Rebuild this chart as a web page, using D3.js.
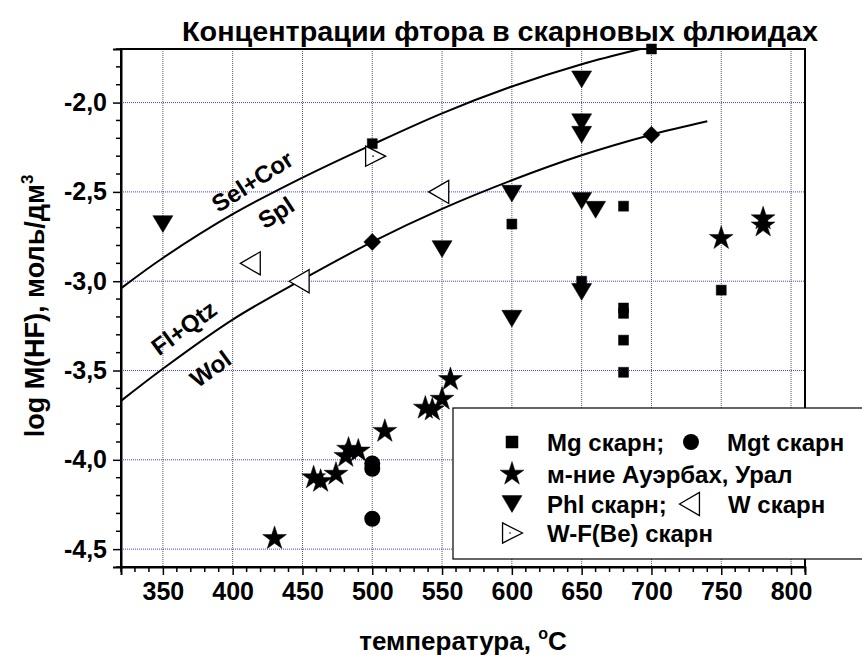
<!DOCTYPE html>
<html>
<head>
<meta charset="utf-8">
<script src="https://cdn.jsdelivr.net/npm/d3@7"></script>
<style>
  html, body { margin: 0; padding: 0; background: #fff; }
  svg { display: block; font-family: "Liberation Sans", Arial, sans-serif; font-weight: bold; }
</style>
</head>
<body>
<svg id="chart" width="862" height="662"></svg>
<script>
// Температура, °C и log M(HF) для каждой группы точек
const mgT = [500, 700, 600, 680, 680, 680, 680, 680, 650, 750];
const mgV = [-2.23, -1.70, -2.68, -2.58, -3.15, -3.18, -3.33, -3.51, -3.00, -3.05];

const mgtT = [500, 500, 500];
const mgtV = [-4.02, -4.05, -4.33];

const auerT = [430, 458, 463, 474, 481, 483, 490, 509, 538, 543, 550, 556, 750, 780, 780];
const auerV = [-4.44, -4.10, -4.12, -4.08, -3.98, -3.94, -3.95, -3.84, -3.71, -3.72, -3.66, -3.55, -2.76, -2.65, -2.69];

const phlT = [350, 550, 600, 600, 650, 650, 650, 650, 660, 650];
const phlV = [-2.68, -2.82, -2.51, -3.21, -1.87, -2.11, -2.18, -2.55, -2.60, -3.06];

const wT = [413, 448, 548];
const wV = [-2.90, -3.00, -2.50];

const wfT = [502];
const wfV = [-2.30];

const diaT = [500, 700];
const diaV = [-2.78, -2.18];

// Линии равновесий
const selCorT = [320, 350, 400, 450, 500, 550, 600, 650, 692];
const selCorV = [-3.04, -2.87, -2.625, -2.42, -2.235, -2.06, -1.91, -1.785, -1.70];

const flQtzT = [320, 350, 400, 450, 500, 550, 600, 650, 700, 740];
const flQtzV = [-3.67, -3.49, -3.215, -2.99, -2.78, -2.595, -2.435, -2.295, -2.18, -2.105];

// Оси
const xTickVals = [350, 400, 450, 500, 550, 600, 650, 700, 750, 800];
const yTickVals = [-4.5, -4.0, -3.5, -3.0, -2.5, -2.0];
const yTickLabels = ["-4,5", "-4,0", "-3,5", "-3,0", "-2,5", "-2,0"];

const titleText = "Концентрации фтора в скарновых флюидах";
const xTitle = "температура, ";
const yTitle = "log M(HF), моль/дм";

const svg = d3.select("#chart");
const L = 121, R = 805, T = 49, B = 567;

const x = d3.scaleLinear().domain([320, 810]).range([L, R]);
const y = d3.scaleLinear().domain([-4.6, -1.7]).range([B, T]);

const zip = (a, b) => a.map((v, i) => [v, b[i]]);

svg.append("defs").append("clipPath").attr("id", "plotClip")
  .append("rect").attr("x", L).attr("y", T).attr("width", R - L).attr("height", B - T);

// Сетка
const grid = svg.append("g");
grid.selectAll("line.vg").data(xTickVals).join("line")
  .attr("x1", d => x(d)).attr("x2", d => x(d)).attr("y1", T).attr("y2", B)
  .attr("stroke", "#555").attr("stroke-width", 1).attr("stroke-dasharray", "1,1");
grid.selectAll("line.hg").data(yTickVals).join("line")
  .attr("x1", L).attr("x2", R).attr("y1", d => y(d)).attr("y2", d => y(d))
  .attr("stroke", "#3b3bff").attr("stroke-width", 1).attr("stroke-dasharray", "1,1");

// Кривые
const line = d3.line().x(d => x(d[0])).y(d => y(d[1])).curve(d3.curveCatmullRom);
const curves = svg.append("g").attr("clip-path", "url(#plotClip)");
curves.append("path").attr("d", line(zip(selCorT, selCorV)))
  .attr("fill", "none").attr("stroke", "#000").attr("stroke-width", 2);
curves.append("path").attr("d", line(zip(flQtzT, flQtzV)))
  .attr("fill", "none").attr("stroke", "#000").attr("stroke-width", 2);

// Подписи кривых
const curveLabels = [
  { text: "Sel+Cor", t: 414, v: -2.44, a: -33 },
  { text: "Spl", t: 431, v: -2.615, a: -33 },
  { text: "Fl+Qtz", t: 365, v: -3.26, a: -36 },
  { text: "Wol", t: 384, v: -3.49, a: -36 }
];
svg.append("g").selectAll("text").data(curveLabels).join("text")
  .attr("transform", d => `translate(${x(d.t)},${y(d.v)}) rotate(${d.a})`)
  .attr("text-anchor", "middle").attr("dy", "0.36em")
  .attr("font-size", 24).text(d => d.text);

// Маркеры
const shapes = {
  square: s => `M${-s/2},${-s/2}h${s}v${s}h${-s}Z`,
  down: s => `M${-s/2},${-s*0.42}L${s/2},${-s*0.42}L0,${s*0.42}Z`,
  left: s => `M${-s*0.5},0L${s*0.45},${-s*0.55}L${s*0.45},${s*0.55}Z`,
  right: s => `M${s*0.5},0L${-s*0.45},${-s*0.48}L${-s*0.45},${s*0.48}Z`,
  diamond: s => `M0,${-s/2}L${s/2},0L0,${s/2}L${-s/2},0Z`,
  star: s => d3.symbol(d3.symbolStar, s)()
};

function drawPoints(g, tArr, vArr, shape, size, filled) {
  g.selectAll(null).data(zip(tArr, vArr)).join("path")
    .attr("transform", d => `translate(${x(d[0])},${y(d[1])})`)
    .attr("d", shapes[shape](size))
    .attr("fill", filled ? "#000" : "#fff")
    .attr("stroke", "#000").attr("stroke-width", filled ? 0.5 : 1.3)
    .attr("stroke-linejoin", "miter");
}

const pts = svg.append("g");
drawPoints(pts, diaT, diaV, "diamond", 17, true);
drawPoints(pts, mgT, mgV, "square", 10, true);
drawPoints(pts, phlT, phlV, "down", 20, true);
drawPoints(pts, wT, wV, "left", 21, false);
drawPoints(pts, wfT, wfV, "right", 21, false);
pts.selectAll(null).data(zip(wfT, wfV)).join("circle")
  .attr("cx", d => x(d[0]) - 2).attr("cy", d => y(d[1])).attr("r", 0.8).attr("fill", "#000");
pts.selectAll(null).data(zip(mgtT, mgtV)).join("circle")
  .attr("cx", d => x(d[0])).attr("cy", d => y(d[1])).attr("r", 8).attr("fill", "#000");
drawPoints(pts, auerT, auerV, "star", 175, true);

// Рамка и оси
const axes = svg.append("g");
axes.append("rect").attr("x", L).attr("y", T).attr("width", R - L).attr("height", B - T)
  .attr("fill", "none").attr("stroke", "#000").attr("stroke-width", 2);

const xAxis = d3.axisBottom(x).tickValues(xTickVals).tickSize(8).tickPadding(7).tickFormat(d3.format("d"));
const gx = axes.append("g").attr("transform", `translate(0,${B})`).call(xAxis);
const xMinor = d3.range(320, 811, 10).filter(v => v % 50 !== 0);
gx.selectAll("line.minor").data(xMinor).join("line").attr("class", "minor")
  .attr("x1", d => x(d)).attr("x2", d => x(d)).attr("y1", 0).attr("y2", 5)
  .attr("stroke", "#000").attr("stroke-width", 1.5);

const yAxis = d3.axisLeft(y).tickValues(yTickVals).tickSize(8).tickPadding(6)
  .tickFormat((d, i) => yTickLabels[i]);
const gy = axes.append("g").attr("transform", `translate(${L},0)`).call(yAxis);
const yMinor = d3.range(-46, -16, 1).map(v => v / 10).filter(v => Math.abs(v * 2 - Math.round(v * 2)) > 1e-6);
gy.selectAll("line.minor").data(yMinor).join("line").attr("class", "minor")
  .attr("x1", -5).attr("x2", 0).attr("y1", d => y(d)).attr("y2", d => y(d))
  .attr("stroke", "#000").attr("stroke-width", 1.5);

[gx, gy].forEach(g => {
  g.select(".domain").attr("stroke-width", 2);
  g.selectAll(".tick line").attr("stroke-width", 1.5);
  g.selectAll(".tick text").attr("font-size", 25).attr("font-weight", "bold")
    .attr("font-family", "Liberation Sans, Arial, sans-serif").attr("fill", "#000");
});

// Заголовки
svg.append("text").attr("x", 500).attr("y", 41).attr("text-anchor", "middle")
  .attr("font-size", 28).attr("textLength", 636).attr("lengthAdjust", "spacingAndGlyphs")
  .text(titleText);

const xt = svg.append("text").attr("x", 463).attr("y", 650).attr("text-anchor", "middle")
  .attr("font-size", 26);
xt.append("tspan").text(xTitle);
xt.append("tspan").attr("dy", -11).attr("font-size", 16).text("o");
xt.append("tspan").attr("dy", 11).text("C");

const yt = svg.append("text").attr("transform", "translate(44,306) rotate(-90)")
  .attr("text-anchor", "middle").attr("font-size", 27);
yt.append("tspan").text(yTitle);
yt.append("tspan").attr("dy", -11).attr("font-size", 17).text("3");

// Легенда
const lg = svg.append("g");
lg.append("rect").attr("x", 453).attr("y", 408).attr("width", 420).attr("height", 151)
  .attr("fill", "#fff").attr("stroke", "#000").attr("stroke-width", 1.2);

const legendItems = [
  { shape: "square", size: 12, filled: true, sx: 512, cy: 442, tx: 547, text: "Mg скарн;" },
  { shape: "circle", size: 8, filled: true, sx: 691, cy: 442, tx: 727, text: "Mgt скарн" },
  { shape: "star", size: 175, filled: true, sx: 512, cy: 474, tx: 547, text: "м-ние Ауэрбах, Урал" },
  { shape: "down", size: 20, filled: true, sx: 512, cy: 504, tx: 547, text: "Phl скарн;" },
  { shape: "left", size: 21, filled: false, sx: 690, cy: 504, tx: 728, text: "W скарн" },
  { shape: "right", size: 21, filled: false, sx: 512, cy: 533, tx: 547, text: "W-F(Be) скарн" }
];
legendItems.forEach(it => {
  if (it.shape === "circle") {
    lg.append("circle").attr("cx", it.sx).attr("cy", it.cy).attr("r", it.size).attr("fill", "#000");
  } else {
    lg.append("path").attr("transform", `translate(${it.sx},${it.cy})`)
      .attr("d", shapes[it.shape](it.size))
      .attr("fill", it.filled ? "#000" : "#fff").attr("stroke", "#000")
      .attr("stroke-width", it.filled ? 0.5 : 1.3);
  }
  if (it.shape === "right") {
    lg.append("circle").attr("cx", it.sx - 2).attr("cy", it.cy).attr("r", 0.8).attr("fill", "#000");
  }
  lg.append("text").attr("x", it.tx).attr("y", it.cy).attr("dy", "0.36em")
    .attr("font-size", 24).text(it.text);
});
</script>
</body>
</html>
